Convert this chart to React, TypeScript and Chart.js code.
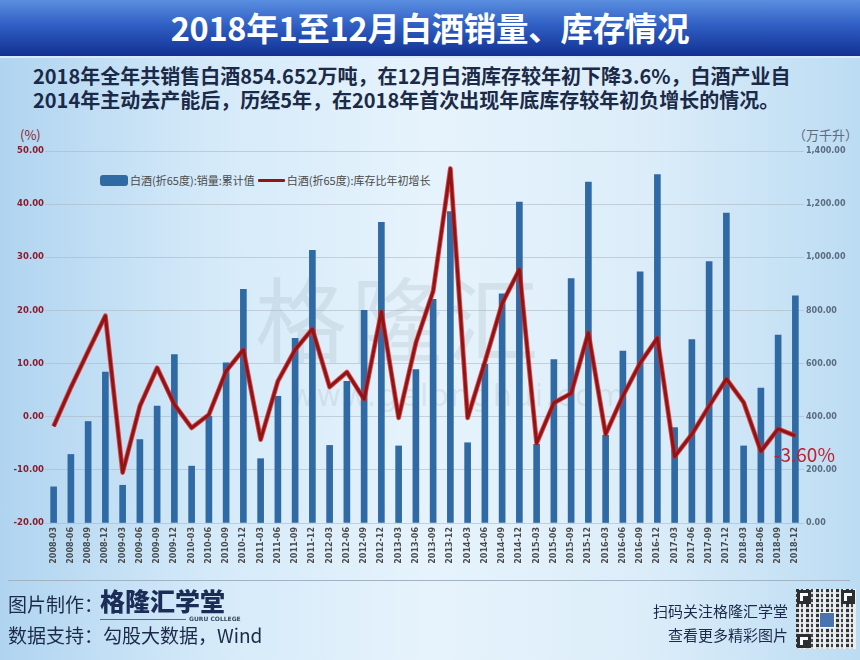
import React, { useEffect, useRef } from "react";
import { Chart, registerables } from "chart.js";

Chart.register(...registerables);

const years = ["2008", "2009", "2010", "2011", "2012", "2013", "2014", "2015", "2016", "2017", "2018"];
const quarters = ["03", "06", "09", "12"];
const categories: string[] = years.flatMap((y) => quarters.map((q) => `${y}-${q}`));

// 白酒(折65度):销量:累计值 (万千升)
const salesCumulative = [
  136, 258, 382, 568,
  142, 314, 440, 634,
  214, 402, 603, 879,
  242, 477, 695, 1026,
  292, 533, 800, 1132,
  290, 577, 842, 1172,
  302, 597, 862, 1208,
  296, 615, 920, 1283,
  330, 647, 945, 1311,
  359, 690, 984, 1166,
  290, 508, 707, 855,
];

// 白酒(折65度):库存比年初增长 (%)
const inventoryGrowth = [
  -1.8, 5.5, 12.3, 19.0,
  -10.5, 2.0, 9.2, 2.3,
  -2.1, 0.4, 8.6, 12.6,
  -4.3, 6.7, 12.6, 16.5,
  5.6, 8.4, 3.3, 19.8,
  -0.2, 13.9, 23.6, 46.7,
  -0.2, 10.3, 21.3, 27.7,
  -5.0, 2.6, 4.4, 15.8,
  -3.3, 3.9, 10.1, 14.8,
  -7.5, -3.3, 2.0, 7.1,
  2.7, -6.5, -2.3, -3.6,
];

const seriesNames = ["白酒(折65度):销量:累计值", "白酒(折65度):库存比年初增长"];
const leftTicks = { min: -20, max: 50, step: 10 };
const rightTicks = { min: 0, max: 1400, step: 200 };

const titleText = "2018年1至12月白酒销量、库存情况";
const subtitleLines = [
  "2018年全年共销售白酒854.652万吨，在12月白酒库存较年初下降3.6%，白酒产业自",
  "2014年主动去产能后，历经5年，在2018年首次出现年底库存较年初负增长的情况。",
];

const CJK = '"Noto Sans CJK SC", "Noto Sans", sans-serif';
const NUM = '"DejaVu Sans", sans-serif';

const lastLabelPlugin = {
  id: "lastLabel",
  afterDatasetsDraw(chart: any) {
    const meta = chart.getDatasetMeta(1);
    const pts = meta.data;
    if (!pts || !pts.length) return;
    const p = pts[pts.length - 1];
    const v = inventoryGrowth[inventoryGrowth.length - 1];
    const ctx = chart.ctx;
    ctx.save();
    ctx.font = `19px ${CJK}`;
    ctx.fillStyle = "#c4202a";
    ctx.textAlign = "center";
    ctx.textBaseline = "middle";
    ctx.fillText(`${v.toFixed(2)}%`, p.x + 9, p.y + 19);
    ctx.restore();
  },
};

function ChartCanvas() {
  const ref = useRef<HTMLCanvasElement | null>(null);
  useEffect(() => {
    if (!ref.current) return;
    const chart = new Chart(ref.current, {
      type: "bar",
      data: {
        labels: categories,
        datasets: [
          {
            type: "bar",
            label: seriesNames[0],
            data: salesCumulative,
            yAxisID: "yR",
            backgroundColor: "#2f6aa5",
            barThickness: 6,
            order: 3,
          } as any,
          {
            type: "line",
            label: seriesNames[1] + " glow",
            data: inventoryGrowth,
            yAxisID: "yL",
            borderColor: "rgba(225,35,35,0.8)",
            borderWidth: 4.8,
            borderJoinStyle: "round",
            pointRadius: 0,
            tension: 0,
            fill: false,
            order: 2,
          } as any,
          {
            type: "line",
            label: seriesNames[1],
            data: inventoryGrowth,
            yAxisID: "yL",
            borderColor: "#8e1515",
            borderWidth: 3,
            borderJoinStyle: "round",
            pointRadius: 0,
            tension: 0,
            fill: false,
            order: 1,
          } as any,
        ],
      },
      options: {
        animation: false,
        responsive: false,
        maintainAspectRatio: false,
        layout: { padding: { top: 151, bottom: 87, left: 0, right: 0 } },
        plugins: { legend: { display: false }, tooltip: { enabled: false } },
        scales: {
          x: {
            grid: { display: false, drawTicks: false },
            border: { display: false },
            ticks: {
              autoSkip: false,
              minRotation: 90,
              maxRotation: 90,
              padding: 4,
              color: "#4a4a4a",
              font: { family: NUM, size: 8, weight: "bold" },
            },
            afterFit(s: any) {
              s.height = 50;
            },
          },
          yL: {
            position: "left",
            min: leftTicks.min,
            max: leftTicks.max,
            ticks: {
              stepSize: leftTicks.step,
              padding: 1,
              color: "#8a1c2e",
              font: { family: NUM, size: 8.5, weight: "bold" },
              callback: (v: any) => Number(v).toFixed(2),
            },
            grid: { color: "rgba(170,180,190,0.55)", drawTicks: false, lineWidth: 1 },
            border: { display: false },
            afterFit(s: any) {
              s.width = 45;
            },
          },
          yR: {
            position: "right",
            min: rightTicks.min,
            max: rightTicks.max,
            ticks: {
              stepSize: rightTicks.step,
              padding: 2,
              color: "#5c6b7e",
              font: { family: NUM, size: 8, weight: "bold" },
              callback: (v: any) =>
                Number(v).toLocaleString("en-US", { minimumFractionDigits: 2, maximumFractionDigits: 2 }),
            },
            grid: { drawOnChartArea: false, drawTicks: false },
            border: { display: false },
            afterFit(s: any) {
              s.width = 56;
            },
          },
        },
      } as any,
      plugins: [lastLabelPlugin],
    });
    return () => chart.destroy();
  }, []);
  return (
    <canvas
      ref={ref}
      width={860}
      height={660}
      style={{ position: "absolute", left: 0, top: 0, width: 860, height: 660 }}
    />
  );
}

function QRCode() {
  const finder = (style: React.CSSProperties) => (
    <div
      style={{
        position: "absolute",
        width: 14,
        height: 14,
        border: "3px solid #1b1b1b",
        boxSizing: "border-box",
        background: "#fff",
        ...style,
      }}
    >
      <div style={{ position: "absolute", left: 3, top: 3, width: 5, height: 5, background: "#1b1b1b" }} />
    </div>
  );
  return (
    <div
      style={{
        position: "absolute",
        left: 796,
        top: 589,
        width: 60,
        height: 60,
        background:
          "repeating-linear-gradient(90deg, #222 0 3px, #e8e8e8 3px 5px, #333 5px 7px, #f0f0f0 7px 10px), #ddd",
        opacity: 0.9,
      }}
    >
      <div
        style={{
          position: "absolute",
          inset: 0,
          background: "repeating-linear-gradient(0deg, rgba(240,240,240,0.85) 0 2px, transparent 2px 5px)",
        }}
      />
      {finder({ left: 1, top: 1 })}
      {finder({ right: 1, top: 1 })}
      {finder({ left: 1, bottom: 1 })}
      <div
        style={{
          position: "absolute",
          left: 23,
          top: 23,
          width: 14,
          height: 14,
          background: "#3d68a8",
          border: "1px solid #fff",
        }}
      />
    </div>
  );
}

export default function App() {
  return (
    <div
      style={{
        position: "absolute",
        left: 0,
        top: 0,
        width: 860,
        height: 660,
        overflow: "hidden",
        fontFamily: CJK,
        background:
          "linear-gradient(90deg, #b0d4f0 0%, #d5eaf9 25%, #e6f3fc 50%, #dcedf9 75%, #bcdcf3 100%)",
      }}
    >
      {/* title bar */}
      <div
        style={{
          position: "absolute",
          left: 0,
          top: 0,
          width: 860,
          height: 56,
          background: "linear-gradient(180deg, #5b8fe0 0%, #2f5fc4 45%, #123092 100%)",
          borderBottom: "2px solid #d9e9fb",
          color: "#fff",
          fontWeight: 700,
          fontSize: 32.5,
          textAlign: "center",
          lineHeight: "54px",
          letterSpacing: -0.3,
        }}
      >
        {titleText}
      </div>
      {/* subtitle */}
      <div
        style={{
          position: "absolute",
          left: 33,
          top: 64,
          width: 820,
          color: "#1b2a48",
          fontWeight: 700,
          fontSize: 20,
          lineHeight: "24px",
          whiteSpace: "nowrap",
        }}
      >
        {subtitleLines.map((l) => (
          <div key={l}>{l}</div>
        ))}
      </div>
      {/* axis units */}
      <div style={{ position: "absolute", left: 20, top: 125, color: "#8a1c2e", fontSize: 13 }}>(%)</div>
      <div style={{ position: "absolute", left: 793, top: 125, color: "#5c6b7e", fontSize: 13 }}>（万千升）</div>
      {/* watermark */}
      <div
        style={{
          position: "absolute",
          left: 255,
          top: 248,
          color: "rgba(110,120,130,0.13)",
          fontSize: 92,
          fontWeight: 400,
          letterSpacing: 4,
        }}
      >
        格隆汇
      </div>
      <div
        style={{
          position: "absolute",
          left: 290,
          top: 378,
          color: "rgba(110,120,130,0.12)",
          fontSize: 30,
          fontFamily: NUM,
          letterSpacing: 2,
        }}
      >
        www.gelonghui.com
      </div>
      {/* legend */}
      <div
        style={{
          position: "absolute",
          left: 100,
          top: 171,
          height: 18,
          display: "flex",
          alignItems: "center",
          fontSize: 11,
          color: "#4a4a4a",
          whiteSpace: "nowrap",
        }}
      >
        <div style={{ width: 28, height: 11, background: "#2f6aa5", borderRadius: 3, marginRight: 2 }} />
        <span>{seriesNames[0]}</span>
        <div style={{ width: 27, height: 3, background: "#901616", margin: "0 2px 0 3px", borderRadius: 1 }} />
        <span>{seriesNames[1]}</span>
      </div>

      <ChartCanvas />

      {/* footer */}
      <div style={{ position: "absolute", left: 8, top: 580, width: 842, height: 1, background: "#9fb3c5" }} />
      <div style={{ position: "absolute", left: 8, top: 590, fontSize: 19, color: "#1b2a48" }}>图片制作：</div>
      <div
        style={{
          position: "absolute",
          left: 100,
          top: 582,
          fontSize: 25,
          fontWeight: 900,
          color: "#1b2d57",
          letterSpacing: 0,
        }}
      >
        格隆汇学堂
      </div>
      <div style={{ position: "absolute", left: 100, top: 619, width: 86, height: 1, background: "#5a6b80" }} />
      <div
        style={{
          position: "absolute",
          left: 189,
          top: 615,
          fontSize: 6,
          fontFamily: NUM,
          color: "#3a4a60",
          fontWeight: 700,
          lineHeight: "8px",
        }}
      >
        GURU COLLEGE
      </div>
      <div style={{ position: "absolute", left: 8, top: 621, fontSize: 19, color: "#1b2a48" }}>
        数据支持：勾股大数据，Wind
      </div>
      <div
        style={{ position: "absolute", right: 72, top: 600, fontSize: 15, color: "#1b2a48", textAlign: "right" }}
      >
        扫码关注格隆汇学堂
      </div>
      <div
        style={{ position: "absolute", right: 72, top: 624, fontSize: 15, color: "#1b2a48", textAlign: "right" }}
      >
        查看更多精彩图片
      </div>
      <QRCode />
    </div>
  );
}
